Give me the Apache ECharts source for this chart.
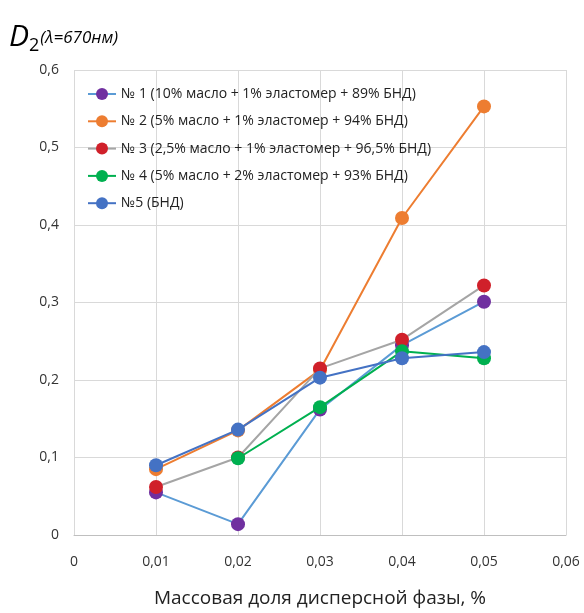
<!DOCTYPE html>
<html><head><meta charset="utf-8">
<script src="https://cdn.jsdelivr.net/npm/echarts@6/dist/echarts.min.js"></script>
<style>html,body{margin:0;padding:0;background:#fff}#c{width:584px;height:613px}</style>
</head><body><div id="c"></div>
<script>
var xValues = [0.01, 0.02, 0.03, 0.04, 0.05];
var names = [
  '№ 1 (10% масло + 1% эластомер + 89% БНД)',
  '№ 2 (5% масло + 1% эластомер + 94% БНД)',
  '№ 3 (2,5% масло + 1% эластомер + 96,5% БНД)',
  '№ 4 (5% масло + 2% эластомер + 93% БНД)',
  '№5 (БНД)'
];
var s1 = [0.055, 0.014, 0.162, 0.245, 0.301];
var s2 = [0.085, 0.135, 0.213, 0.409, 0.553];
var s3 = [0.062, 0.100, 0.215, 0.252, 0.322];
var s4 = [null, 0.099, 0.165, 0.237, 0.228];
var s5 = [0.090, 0.136, 0.203, 0.228, 0.236];
var markerColors = ['#7030A0', '#ED7D31', '#D0202A', '#00B050', '#4472C4'];
var lineColors = ['#5B9BD5', '#ED7D31', '#A5A5A5', '#00B050', '#4472C4'];
var allData = [s1, s2, s3, s4, s5];

function pairs(arr){ return xValues.map(function(x,i){ return [x, arr[i]]; }); }
var font = 'Open Sans, sans-serif';
var series = allData.map(function(d, i){
  return {
    name: names[i], type: 'line', data: pairs(d),
    symbol: 'circle', symbolSize: 14, connectNulls: false,
    itemStyle: {color: markerColors[i]},
    lineStyle: {color: lineColors[i], width: 2},
    z: 2 + i
  };
});
var chart = echarts.init(document.getElementById('c'));
chart.setOption({
  animation: false,
  textStyle: {fontFamily: font},
  title: {
    text: '{d|D}{s|2}{l|(λ=670нм)}', left: 4, top: 14,
    textStyle: {fontWeight: 'normal', rich: {
      d: {fontSize: 30, fontStyle: 'italic', fontWeight: 'normal', fontFamily: font, color: '#000'},
      s: {fontSize: 18, fontWeight: 'normal', fontFamily: font, color: '#000', padding: [18, 1, 0, 0]},
      l: {fontSize: 17, fontStyle: 'italic', fontWeight: 'normal', fontFamily: font, color: '#000', padding: [3, 0, 0, 0]}
    }}
  },
  legend: {
    orient: 'vertical', left: 82, top: 82, itemGap: 13.3,
    itemWidth: 28, itemHeight: 15,
    textStyle: {fontSize: 14, color: '#222', fontFamily: font},
    data: names
  },
  grid: {left: 74, right: 18, top: 70, bottom: 77},
  xAxis: {
    type: 'value', min: 0, max: 0.06, interval: 0.01,
    name: 'Массовая доля дисперсной фазы, %', nameLocation: 'middle', nameGap: 54,
    nameTextStyle: {fontSize: 19, color: '#222', fontFamily: font},
    axisLine: {lineStyle: {color: '#BFBFBF'}}, axisTick: {show: false},
    axisLabel: {fontSize: 14, color: '#333', margin: 20,
      formatter: function(v){ return v === 0 ? '0' : v.toFixed(2).replace('.', ','); }},
    splitLine: {show: true, lineStyle: {color: '#D9D9D9'}}
  },
  yAxis: {
    type: 'value', min: 0, max: 0.6, interval: 0.1,
    axisLine: {show: false}, axisTick: {show: false},
    axisLabel: {fontSize: 14, color: '#333', margin: 15,
      formatter: function(v){ return v === 0 ? '0' : v.toFixed(1).replace('.', ','); }},
    splitLine: {show: true, lineStyle: {color: '#D9D9D9'}}
  },
  series: series
});
</script></body></html>
